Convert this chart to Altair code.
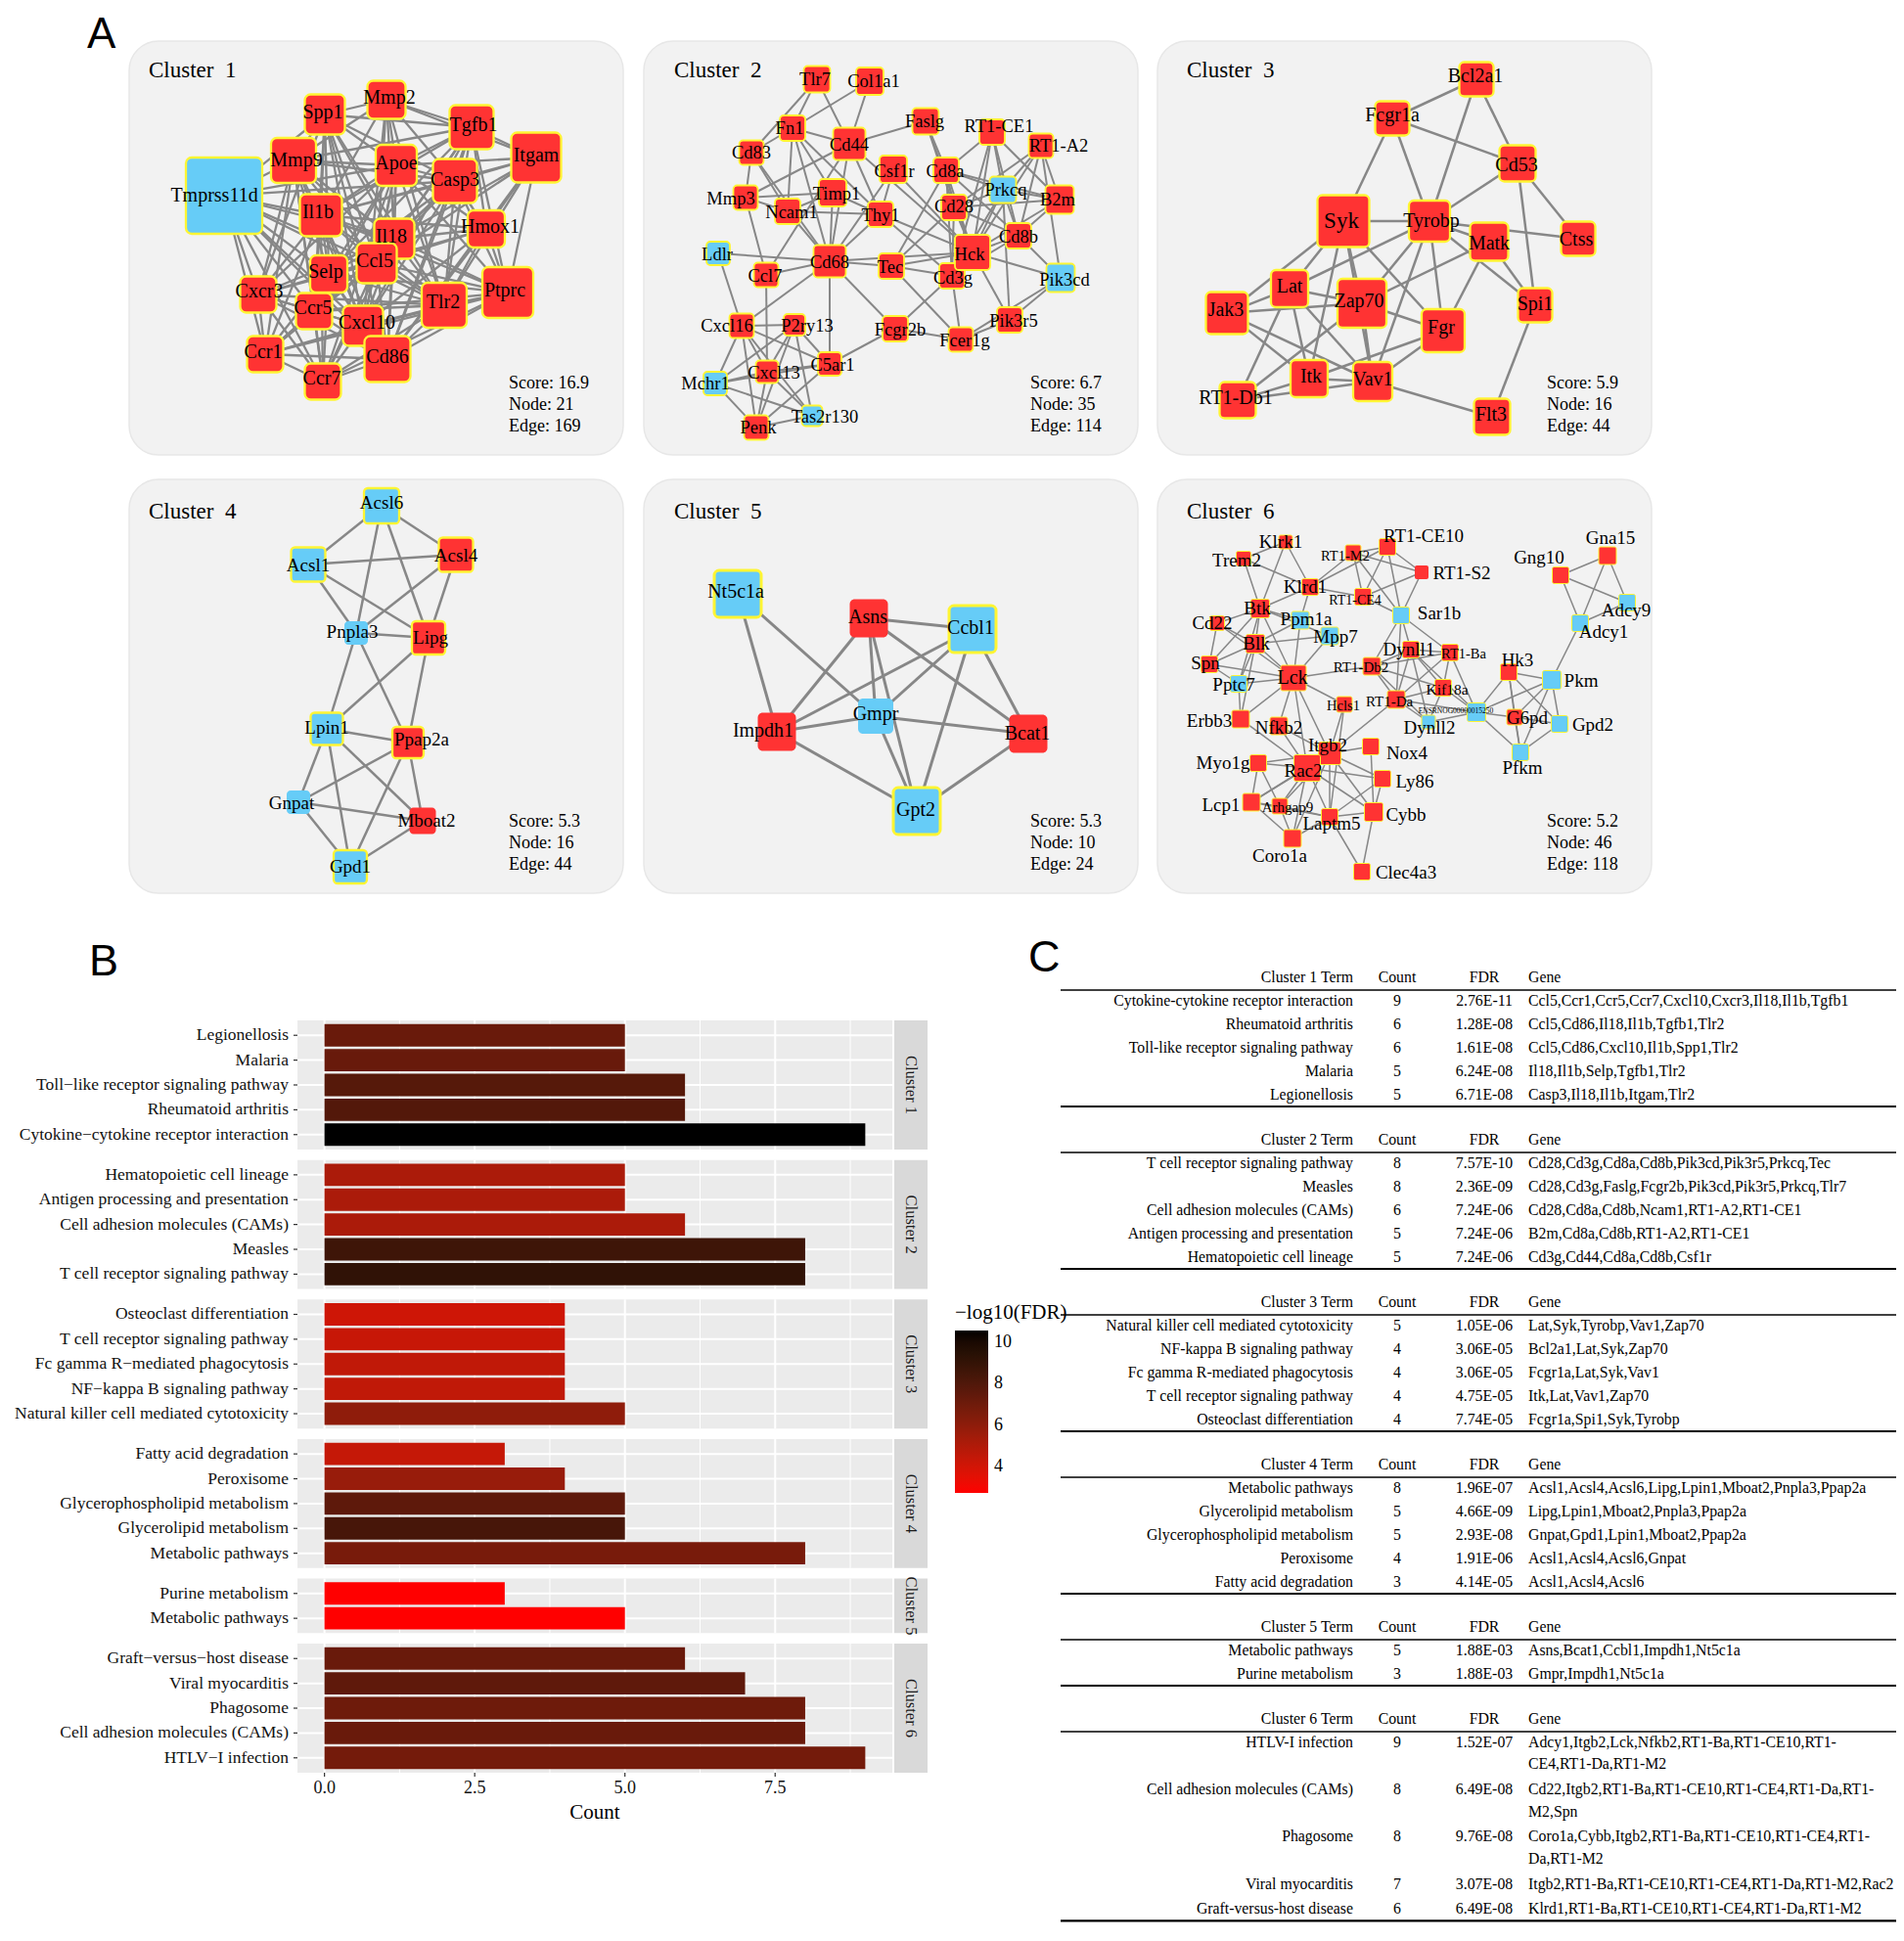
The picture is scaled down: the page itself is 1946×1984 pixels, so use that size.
import math
import itertools
import altair as alt
import pandas as pd

OFF = 8
W, H = 1930, 1968
SERIF = "Liberation Serif"
SANS = "Liberation Sans"
RED, BLUE, YEL = "#FF3333", "#66CCF7", "#FFF533"
EDGE = "#878787"

# ------------------------------------------------------------------ panel A data
SCORES = [16.9, 6.7, 5.9, 5.3, 5.3, 5.2]
NODE_N = [21, 35, 16, 16, 10, 46]
EDGE_N = [169, 114, 44, 44, 24, 118]

# name, x, y, box size, colour (r/b), yellow border, label dx, label dy, [font size]
C1_NODES = [
    ("Tmprss11d", 99, 160, 78, "b", 1, -10, 0), ("Mmp9", 170, 124, 46, "r", 1, 3, 0),
    ("Spp1", 202, 77, 41, "r", 1, -2, -2), ("Mmp2", 265, 62, 39, "r", 1, 3, -2),
    ("Tgfb1", 352, 90, 45, "r", 1, 2, -2), ("Itgam", 418, 121, 51, "r", 1, 0, -2),
    ("Apoe", 275, 129, 42, "r", 1, 0, -2), ("Casp3", 335, 145, 45, "r", 1, 0, -1),
    ("Il1b", 198, 180, 43, "r", 1, -3, -3), ("Il18", 273, 204, 41, "r", 1, -3, -2),
    ("Hmox1", 367, 194, 38, "r", 1, 4, -2), ("Ccl5", 255, 229, 41, "r", 1, -2, -2),
    ("Selp", 206, 240, 38, "r", 1, -3, -2), ("Cxcr3", 134, 261, 37, "r", 1, 1, -3),
    ("Ccr5", 191, 278, 37, "r", 1, -1, -3), ("Cxcl10", 241, 293, 41, "r", 1, 4, -3),
    ("Tlr2", 324, 272, 46, "r", 1, -1, -3), ("Ptprc", 389, 259, 52, "r", 1, -3, -2),
    ("Ccr1", 141, 322, 37, "r", 1, -2, -2), ("Cd86", 266, 327, 47, "r", 1, 0, -2),
    ("Ccr7", 200, 350, 37, "r", 1, -1, -3),
]
C1_NON_EDGES = (
    "Tmprss11d:Itgam Tmprss11d:Hmox1 Tmprss11d:Ptprc Tmprss11d:Tgfb1 Tmprss11d:Mmp2 "
    "Ccr1:Itgam Ccr1:Hmox1 Ccr1:Mmp2 Ccr1:Tgfb1 Ccr1:Spp1 Ccr1:Casp3 Ccr1:Apoe "
    "Ccr7:Itgam Ccr7:Hmox1 Ccr7:Mmp2 Ccr7:Tgfb1 Ccr7:Spp1 Ccr7:Casp3 "
    "Cxcr3:Itgam Cxcr3:Hmox1 Cxcr3:Mmp2 Cxcr3:Tgfb1 Cxcr3:Casp3 Cxcr3:Ptprc "
    "Ccr5:Itgam Ccr5:Mmp2 Ccr5:Hmox1 Ccr5:Tgfb1 Mmp2:Ptprc Mmp2:Cd86 Mmp2:Hmox1 Mmp2:Selp "
    "Spp1:Ptprc Spp1:Hmox1 Spp1:Itgam Itgam:Selp Itgam:Cxcl10 Itgam:Mmp9 "
    "Mmp9:Ptprc Mmp9:Hmox1 Mmp9:Cd86"
)

C2_NODES = [
    ("Tlr7", 179, 41, 27, "r", 1, -2, 0), ("Col1a1", 233, 43, 28, "r", 1, 4, 0),
    ("Fn1", 154, 91, 26, "r", 1, -3, 0), ("Cd83", 112, 116, 25, "r", 1, 0, 0),
    ("Cd44", 212, 107, 33, "r", 1, 0, 1), ("Faslg", 290, 84, 27, "r", 1, -1, 0),
    ("RT1-CE1", 358, 95, 26, "r", 1, 7, -6), ("RT1-A2", 408, 109, 25, "r", 1, 18, 0),
    ("Csf1r", 257, 133, 28, "r", 1, 1, 2), ("Cd8a", 311, 134, 26, "r", 1, -1, 1),
    ("Prkcq", 369, 154, 27, "b", 1, 3, 0), ("B2m", 427, 164, 29, "r", 1, -2, 0),
    ("Mmp3", 106, 162, 25, "r", 1, -15, 1), ("Timp1", 195, 157, 28, "r", 1, 4, 1),
    ("Ncam1", 149, 176, 26, "r", 1, 4, 1), ("Thy1", 244, 179, 26, "r", 1, 0, 1),
    ("Cd28", 319, 172, 26, "r", 1, 0, -1), ("Cd8b", 385, 201, 26, "r", 1, 0, 1),
    ("Ldlr", 78, 219, 24, "b", 1, -1, 1), ("Cd68", 192, 227, 33, "r", 1, 0, 1),
    ("Ccl7", 127, 241, 25, "r", 1, -1, 1), ("Tec", 255, 232, 26, "r", 1, -1, 1),
    ("Cd3g", 317, 242, 26, "r", 1, 1, 2), ("Hck", 338, 218, 36, "r", 1, -3, 2),
    ("Pik3cd", 428, 244, 29, "b", 1, 4, 2), ("Cxcl16", 102, 293, 25, "r", 1, -15, 0),
    ("P2ry13", 156, 292, 22, "r", 1, 13, 1), ("Fcgr2b", 259, 296, 26, "r", 1, 5, 1),
    ("Pik3r5", 376, 287, 26, "r", 1, 4, 1), ("Fcer1g", 326, 307, 25, "r", 1, 4, 1),
    ("C5ar1", 192, 332, 24, "r", 1, 3, 1), ("Cxcl13", 128, 340, 23, "r", 1, 7, 1),
    ("Mchr1", 75, 352, 24, "b", 1, -10, 0), ("Tas2r130", 174, 385, 21, "b", 1, 13, 1),
    ("Penk", 117, 397, 25, "r", 1, 2, 0),
]
C2_EDGES = (
    "Tlr7:Fn1 Tlr7:Cd44 Col1a1:Fn1 Col1a1:Cd44 Fn1:Cd83 Fn1:Cd44 Fn1:Ncam1 Fn1:Cd68 Fn1:Thy1 "
    "Fn1:Timp1 Cd83:Ncam1 Cd83:Cd68 Cd44:Faslg Cd44:Mmp3 Cd44:Cd68 Cd44:Thy1 Cd44:Hck Cd44:Ccl7 "
    "Faslg:Cd8a Faslg:Hck Faslg:Cd28 RT1-CE1:Cd8a RT1-CE1:Prkcq RT1-CE1:Hck RT1-CE1:Cd8b "
    "RT1-CE1:B2m RT1-CE1:Cd3g RT1-A2:Prkcq RT1-A2:Cd8b RT1-A2:B2m RT1-A2:Hck RT1-A2:Cd28 "
    "RT1-A2:Pik3cd Csf1r:Cd68 Csf1r:Hck Csf1r:Thy1 Cd8a:Cd28 Cd8a:Hck Cd8a:Cd3g Cd8a:Prkcq "
    "Cd8a:Cd8b Cd8a:B2m Cd8a:Tec Prkcq:Hck Prkcq:Cd28 Prkcq:Cd8b Prkcq:B2m Prkcq:Pik3r5 "
    "Prkcq:Cd3g B2m:Cd8b B2m:Cd28 B2m:Hck Mmp3:Timp1 Mmp3:Ncam1 Mmp3:Ccl7 Timp1:Thy1 Timp1:Cd68 "
    "Timp1:Ncam1 Ncam1:Thy1 Ncam1:Cd68 Thy1:Cd68 Thy1:Cd3g Thy1:Hck Cd28:Hck Cd28:Cd3g Cd28:Cd8b "
    "Cd28:Tec Cd8b:Hck Cd8b:Pik3cd Cd8b:Cd3g Hck:Tec Hck:Cd68 Hck:Pik3cd Hck:Pik3r5 Hck:Cd3g "
    "Ldlr:Cd68 Ldlr:Cxcl16 Cd68:Ccl7 Cd68:Tec Cd68:Fcgr2b Cd68:C5ar1 Cd68:Cxcl16 Tec:Cd3g "
    "Tec:Fcer1g Cd3g:Fcgr2b Cd3g:Fcer1g Pik3cd:Pik3r5 Pik3cd:Fcer1g Pik3r5:Fcer1g Fcgr2b:Fcer1g "
    "Fcgr2b:C5ar1 Ccl7:Cxcl13 Cxcl16:P2ry13 Cxcl16:Cxcl13 Cxcl16:C5ar1 Cxcl16:Mchr1 Cxcl16:Penk "
    "Cxcl16:Tas2r130 P2ry13:Cxcl13 P2ry13:C5ar1 P2ry13:Mchr1 P2ry13:Penk P2ry13:Tas2r130 "
    "C5ar1:Cxcl13 C5ar1:Penk C5ar1:Mchr1 Cxcl13:Mchr1 Cxcl13:Penk Cxcl13:Tas2r130 Mchr1:Penk "
    "Mchr1:Tas2r130 Penk:Tas2r130 Mmp3:Cd83 Tlr7:Cd83"
)

C3_NODES = [
    ("Bcl2a1", 328, 41, 35, "r", 1, -1, -3), ("Fcgr1a", 242, 81, 35, "r", 1, 0, -3),
    ("Cd53", 370, 127, 37, "r", 1, -1, 2), ("Syk", 192, 186, 53, "r", 1, -2, 0, 23),
    ("Tyrobp", 280, 186, 42, "r", 1, 2, 0), ("Matk", 341, 207, 39, "r", 1, 0, 2),
    ("Ctss", 432, 204, 35, "r", 1, -2, 1), ("Lat", 137, 255, 38, "r", 1, 0, -2),
    ("Jak3", 73, 280, 43, "r", 1, -1, -3), ("Zap70", 211, 270, 50, "r", 1, -3, -2),
    ("Spi1", 388, 272, 35, "r", 1, 0, -1), ("Fgr", 294, 298, 44, "r", 1, -2, -3),
    ("Itk", 157, 347, 38, "r", 1, 2, -2), ("Vav1", 222, 350, 40, "r", 1, 0, -2),
    ("RT1-Db1", 84, 369, 37, "r", 1, -2, -2), ("Flt3", 344, 386, 37, "r", 1, -1, -2),
]
C3_EDGES = (
    "Bcl2a1:Fcgr1a Bcl2a1:Cd53 Bcl2a1:Tyrobp Fcgr1a:Syk Fcgr1a:Tyrobp Fcgr1a:Cd53 Cd53:Tyrobp "
    "Cd53:Ctss Cd53:Spi1 Syk:Tyrobp Syk:Fgr Syk:Zap70 Syk:Lat Syk:Jak3 Syk:Itk Syk:Vav1 "
    "Tyrobp:Matk Tyrobp:Ctss Tyrobp:Fgr Tyrobp:Zap70 Tyrobp:Lat Tyrobp:Vav1 Tyrobp:Spi1 "
    "Matk:Zap70 Matk:Fgr Matk:Spi1 Lat:Jak3 Lat:Zap70 Lat:Itk Lat:Vav1 Lat:RT1-Db1 Jak3:Zap70 "
    "Jak3:Itk Jak3:Vav1 Zap70:Fgr Zap70:Vav1 Zap70:RT1-Db1 Fgr:Vav1 Fgr:Itk Itk:Vav1 "
    "Itk:RT1-Db1 Vav1:RT1-Db1 Vav1:Flt3 Spi1:Flt3"
)

C4_NODES = [
    ("Acsl6", 260, 29, 36, "b", 1, 0, -3), ("Acsl1", 185, 89, 35, "b", 1, 0, 1),
    ("Acsl4", 336, 79, 35, "r", 1, 0, 1), ("Pnpla3", 234, 159, 24, "b", 0, -4, -1),
    ("Lipg", 308, 164, 34, "r", 1, 2, 0), ("Lpin1", 204, 257, 33, "b", 1, 0, -1),
    ("Ppap2a", 287, 271, 32, "r", 1, 14, -3), ("Gnpat", 175, 332, 24, "b", 0, -7, 1),
    ("Mboat2", 302, 351, 27, "r", 0, 4, 0), ("Gpd1", 228, 398, 34, "b", 1, 0, 0),
]
C4_EDGES = (
    "Acsl6:Acsl1 Acsl6:Acsl4 Acsl6:Pnpla3 Acsl6:Lipg Acsl1:Acsl4 Acsl1:Pnpla3 Acsl1:Lipg "
    "Acsl4:Pnpla3 Acsl4:Lipg Pnpla3:Lipg Pnpla3:Lpin1 Pnpla3:Ppap2a Lipg:Lpin1 Lipg:Ppap2a "
    "Lpin1:Ppap2a Lpin1:Gnpat Lpin1:Gpd1 Lpin1:Mboat2 Ppap2a:Gnpat Ppap2a:Gpd1 Ppap2a:Mboat2 "
    "Gnpat:Mboat2 Gnpat:Gpd1 Gpd1:Mboat2"
)

C5_NODES = [
    ("Nt5c1a", 98, 119, 48, "b", 1, -2, -2), ("Asns", 232, 144, 39, "r", 0, -1, -1),
    ("Ccbl1", 338, 155, 48, "b", 1, -2, -1), ("Impdh1", 138, 260, 39, "r", 0, -14, -1),
    ("Gmpr", 239, 244, 36, "b", 0, 0, -2), ("Bcat1", 395, 262, 39, "r", 0, -1, 0),
    ("Gpt2", 281, 341, 48, "b", 1, -1, -1),
]
C5_EDGES = (
    "Nt5c1a:Impdh1 Nt5c1a:Gmpr Asns:Ccbl1 Asns:Impdh1 Asns:Gmpr Asns:Gpt2 Asns:Bcat1 "
    "Ccbl1:Impdh1 Ccbl1:Gmpr Ccbl1:Gpt2 Ccbl1:Bcat1 Impdh1:Gmpr Impdh1:Gpt2 Gmpr:Bcat1 "
    "Gmpr:Gpt2 Bcat1:Gpt2"
)

C6_NODES = [
    ("Klrk1", 133, 66, 14, "r", 1, -5, 0, 19), ("Trem2", 90, 83, 15, "r", 1, -7, 2, 19),
    ("RT1-M2", 202, 77, 16, "r", 1, -8, 4, 14.5), ("RT1-CE10", 237, 71, 17, "r", 1, 37, -11, 19),
    ("RT1-S2", 272, 97, 14, "r", 0, 41, 1, 19), ("Klrd1", 158, 112, 17, "r", 1, -5, 0, 19),
    ("RT1-CE4", 212, 122, 17, "r", 1, -8, 4, 14), ("Btk", 107, 134, 19, "r", 1, -3, 0, 19),
    ("Cd22", 63, 149, 15, "r", 1, -5, 0, 19), ("Ppm1a", 148, 146, 18, "b", 1, 6, -1, 19),
    ("Sar1b", 251, 141, 17, "b", 1, 39, -2, 19), ("Mpp7", 178, 162, 18, "b", 1, 6, 1, 19),
    ("Blk", 102, 170, 19, "r", 1, 1, 0, 19), ("Spn", 55, 191, 17, "r", 1, -4, -1, 19),
    ("Dynll1", 261, 176, 17, "r", 1, -2, 0, 19), ("RT1-Ba", 301, 179, 17, "r", 1, 14, 2, 14.5),
    ("RT1-Db2", 221, 193, 18, "r", 1, -11, 1, 15), ("Lck", 141, 205, 26, "r", 1, -1, 0, 20),
    ("Pptc7", 85, 211, 17, "b", 1, -5, 1, 19), ("Hk3", 361, 199, 17, "r", 1, 9, -12, 19),
    ("Pkm", 405, 207, 19, "b", 1, 30, 1, 19), ("Kif18a", 294, 215, 17, "r", 1, 4, 2, 15.5),
    ("RT1-Da", 246, 227, 18, "r", 1, -7, 2, 15), ("Hcls1", 193, 232, 16, "r", 1, -1, 2, 14.5),
    ("ENSRNOG00000015250", 328, 240, 19, "b", 1, -21, -1, 7.5),
    ("Erbb3", 87, 247, 18, "r", 1, -32, 2, 19), ("Nfkb2", 126, 254, 18, "r", 1, 0, 2, 19),
    ("G6pd", 367, 245, 16, "r", 1, 13, 1, 19), ("Dynll2", 279, 250, 14, "b", 1, 1, 6, 19),
    ("Gpd2", 413, 252, 17, "b", 1, 34, 1, 19), ("Itgb2", 178, 282, 23, "r", 1, -2, -8, 19),
    ("Nox4", 220, 275, 17, "r", 1, 37, 7, 19), ("Myo1g", 105, 292, 17, "r", 1, -36, 0, 19),
    ("Rac2", 155, 297, 27, "r", 1, -4, 3, 19), ("Ly86", 232, 308, 17, "r", 1, 33, 3, 19),
    ("Pfkm", 373, 281, 17, "b", 1, 2, 16, 19), ("Lcp1", 98, 332, 18, "r", 1, -31, 3, 19),
    ("Arhgap9", 127, 336, 16, "r", 1, 8, 1, 15), ("Laptm5", 178, 347, 17, "r", 1, 2, 7, 19),
    ("Cybb", 223, 342, 19, "r", 1, 33, 3, 19), ("Coro1a", 140, 369, 18, "r", 1, -13, 18, 19),
    ("Clec4a3", 211, 403, 17, "r", 1, 45, 1, 19), ("Gng10", 414, 100, 17, "r", 1, -22, -18, 19),
    ("Gna15", 462, 80, 18, "r", 1, 3, -18, 19), ("Adcy9", 482, 128, 17, "b", 1, -1, 8, 19),
    ("Adcy1", 434, 149, 17, "b", 1, 24, 9, 19),
]
C6_EDGES = (
    "Klrk1:Btk Klrk1:Klrd1 Trem2:Btk Trem2:Klrd1 Klrd1:Btk Klrd1:RT1-M2 Klrd1:RT1-CE10 "
    "Klrd1:RT1-CE4 Klrd1:Ppm1a RT1-M2:RT1-CE10 RT1-M2:RT1-S2 RT1-M2:RT1-CE4 RT1-M2:Sar1b "
    "RT1-CE10:RT1-S2 RT1-CE10:RT1-CE4 RT1-CE10:Sar1b RT1-S2:RT1-CE4 RT1-S2:Sar1b Sar1b:Dynll1 "
    "Sar1b:RT1-Ba Sar1b:RT1-Da Sar1b:RT1-Db2 Btk:Cd22 Btk:Blk Btk:Ppm1a Btk:Lck Btk:Spn "
    "Btk:Pptc7 Cd22:Spn Cd22:Blk Cd22:Lck Ppm1a:Lck Ppm1a:Blk Mpp7:Blk Mpp7:Lck Mpp7:Btk "
    "Blk:Spn Blk:Lck Blk:Pptc7 Blk:Erbb3 Spn:Lck Spn:Pptc7 Pptc7:Lck Pptc7:Erbb3 Lck:RT1-Db2 "
    "Lck:Erbb3 Lck:Nfkb2 Lck:Hcls1 Lck:Rac2 Lck:Itgb2 RT1-Db2:Dynll1 RT1-Db2:RT1-Ba "
    "RT1-Db2:RT1-Da RT1-Db2:Kif18a RT1-Db2:Dynll2 Dynll1:RT1-Ba Dynll1:RT1-Da Dynll1:Kif18a "
    "Dynll1:Dynll2 Dynll1:ENSRNOG00000015250 RT1-Ba:RT1-Da RT1-Ba:Kif18a "
    "RT1-Ba:ENSRNOG00000015250 RT1-Da:Kif18a RT1-Da:Dynll2 RT1-Da:ENSRNOG00000015250 "
    "RT1-Da:Itgb2 Kif18a:ENSRNOG00000015250 Kif18a:Dynll2 Dynll2:ENSRNOG00000015250 "
    "ENSRNOG00000015250:Hk3 ENSRNOG00000015250:Pkm ENSRNOG00000015250:G6pd "
    "ENSRNOG00000015250:Pfkm Hk3:Pkm Hk3:G6pd Hk3:Pfkm Hk3:Gpd2 Pkm:G6pd Pkm:Gpd2 Pkm:Pfkm "
    "Pkm:Adcy1 G6pd:Gpd2 G6pd:Pfkm Gpd2:Pfkm Adcy1:Adcy9 Adcy1:Gng10 Adcy1:Gna15 Gng10:Gna15 "
    "Gng10:Adcy9 Gna15:Adcy9 Hcls1:Itgb2 Hcls1:Laptm5 Erbb3:Rac2 Nfkb2:Rac2 Nfkb2:Itgb2 "
    "Itgb2:Rac2 Itgb2:Nox4 Itgb2:Ly86 Itgb2:Cybb Itgb2:Laptm5 Itgb2:Arhgap9 Itgb2:Coro1a "
    "Itgb2:Lcp1 Myo1g:Rac2 Myo1g:Itgb2 Myo1g:Lcp1 Myo1g:Arhgap9 Rac2:Lcp1 Rac2:Arhgap9 "
    "Rac2:Laptm5 Rac2:Cybb Rac2:Coro1a Rac2:Ly86 Lcp1:Arhgap9 Lcp1:Coro1a Lcp1:Laptm5 "
    "Arhgap9:Coro1a Arhgap9:Laptm5 Laptm5:Cybb Laptm5:Coro1a Laptm5:Clec4a3 Laptm5:Ly86 "
    "Cybb:Clec4a3 Cybb:Nox4 Ly86:Cybb Trem2:Klrk1 RT1-CE4:Sar1b"
)

# ------------------------------------------------------------------ panel B / C data
TERM_CLUSTER = [1] * 5 + [2] * 5 + [3] * 5 + [4] * 5 + [5] * 2 + [6] * 5
TERMS = [
    "Cytokine-cytokine receptor interaction", "Rheumatoid arthritis",
    "Toll-like receptor signaling pathway", "Malaria", "Legionellosis",
    "T cell receptor signaling pathway", "Measles", "Cell adhesion molecules (CAMs)",
    "Antigen processing and presentation", "Hematopoietic cell lineage",
    "Natural killer cell mediated cytotoxicity", "NF-kappa B signaling pathway",
    "Fc gamma R-mediated phagocytosis", "T cell receptor signaling pathway",
    "Osteoclast differentiation",
    "Metabolic pathways", "Glycerolipid metabolism", "Glycerophospholipid metabolism",
    "Peroxisome", "Fatty acid degradation",
    "Metabolic pathways", "Purine metabolism",
    "HTLV-I infection", "Cell adhesion molecules (CAMs)", "Phagosome", "Viral myocarditis",
    "Graft-versus-host disease",
]
COUNTS = [9, 6, 6, 5, 5, 8, 8, 6, 5, 5, 5, 4, 4, 4, 4, 8, 5, 5, 4, 3, 5, 3, 9, 8, 8, 7, 6]
FDRS = [
    "2.76E-11", "1.28E-08", "1.61E-08", "6.24E-08", "6.71E-08",
    "7.57E-10", "2.36E-09", "7.24E-06", "7.24E-06", "7.24E-06",
    "1.05E-06", "3.06E-05", "3.06E-05", "4.75E-05", "7.74E-05",
    "1.96E-07", "4.66E-09", "2.93E-08", "1.91E-06", "4.14E-05",
    "1.88E-03", "1.88E-03",
    "1.52E-07", "6.49E-08", "9.76E-08", "3.07E-08", "6.49E-08",
]
GENES = [
    "Ccl5,Ccr1,Ccr5,Ccr7,Cxcl10,Cxcr3,Il18,Il1b,Tgfb1", "Ccl5,Cd86,Il18,Il1b,Tgfb1,Tlr2",
    "Ccl5,Cd86,Cxcl10,Il1b,Spp1,Tlr2", "Il18,Il1b,Selp,Tgfb1,Tlr2", "Casp3,Il18,Il1b,Itgam,Tlr2",
    "Cd28,Cd3g,Cd8a,Cd8b,Pik3cd,Pik3r5,Prkcq,Tec", "Cd28,Cd3g,Faslg,Fcgr2b,Pik3cd,Pik3r5,Prkcq,Tlr7",
    "Cd28,Cd8a,Cd8b,Ncam1,RT1-A2,RT1-CE1", "B2m,Cd8a,Cd8b,RT1-A2,RT1-CE1",
    "Cd3g,Cd44,Cd8a,Cd8b,Csf1r",
    "Lat,Syk,Tyrobp,Vav1,Zap70", "Bcl2a1,Lat,Syk,Zap70", "Fcgr1a,Lat,Syk,Vav1",
    "Itk,Lat,Vav1,Zap70", "Fcgr1a,Spi1,Syk,Tyrobp",
    "Acsl1,Acsl4,Acsl6,Lipg,Lpin1,Mboat2,Pnpla3,Ppap2a", "Lipg,Lpin1,Mboat2,Pnpla3,Ppap2a",
    "Gnpat,Gpd1,Lpin1,Mboat2,Ppap2a", "Acsl1,Acsl4,Acsl6,Gnpat", "Acsl1,Acsl4,Acsl6",
    "Asns,Bcat1,Ccbl1,Impdh1,Nt5c1a", "Gmpr,Impdh1,Nt5c1a",
    "Adcy1,Itgb2,Lck,Nfkb2,RT1-Ba,RT1-CE10,RT1-\nCE4,RT1-Da,RT1-M2",
    "Cd22,Itgb2,RT1-Ba,RT1-CE10,RT1-CE4,RT1-Da,RT1-\nM2,Spn",
    "Coro1a,Cybb,Itgb2,RT1-Ba,RT1-CE10,RT1-CE4,RT1-\nDa,RT1-M2",
    "Itgb2,RT1-Ba,RT1-CE10,RT1-CE4,RT1-Da,RT1-M2,Rac2",
    "Klrd1,RT1-Ba,RT1-CE10,RT1-CE4,RT1-Da,RT1-M2",
]
X_BREAKS = [0, 2.5, 5, 7.5]
X_MINOR = [1.25, 3.75, 6.25, 8.75]
LEGEND_VALUES = [4, 6, 8, 10]

# ------------------------------------------------------------------ layout
PANEL_X = [132, 658, 1183]
PANEL_Y = [42, 490]
PANEL_W, PANEL_H = 505, 423
LOC0 = 2
STYLE = [
    dict(fs=20, ew=2.3, bw=2.3, r=6),
    dict(fs=18.5, ew=2.0, bw=1.8, r=4),
    dict(fs=20, ew=2.5, bw=2.3, r=5),
    dict(fs=19, ew=2.5, bw=2.3, r=4),
    dict(fs=20, ew=3.0, bw=3.0, r=5),
    dict(fs=19, ew=1.5, bw=1.0, r=2),
]
TITLE_POS = [(22, 32), (33, 32), (32, 32), (22, 35), (33, 35), (32, 35)]
STAT_X = [390, 397, 400, 390, 397, 400]
STAT_Y = [352, 374, 396]


def parse_pairs(s):
    return [tuple(p.split(":")) for p in s.split()]


def c1_pairs():
    names = [n[0] for n in C1_NODES]
    miss = {frozenset(p) for p in parse_pairs(C1_NON_EDGES)}
    return [(a, b) for a, b in itertools.combinations(names, 2) if frozenset((a, b)) not in miss]


def cluster_chart(i, nodes, pairs):
    st = STYLE[i]
    ox = PANEL_X[i % 3] - OFF
    oy = PANEL_Y[i // 3] - OFF
    XS = alt.Scale(domain=[LOC0, LOC0 + PANEL_W], range=[ox, ox + PANEL_W], nice=False, zero=False)
    YS = alt.Scale(domain=[LOC0, LOC0 + PANEL_H], range=[oy, oy + PANEL_H], nice=False, zero=False)

    def X(f):
        return alt.X(f"{f}:Q", scale=XS, axis=None)

    def Y(f):
        return alt.Y(f"{f}:Q", scale=YS, axis=None)

    rows = []
    for n in nodes:
        name, x, y, s, c, b, dx, dy = n[:8]
        fs = n[8] if len(n) > 8 else st["fs"]
        fill = RED if c == "r" else BLUE
        rows.append(dict(name=name, x=x, y=y, x0=x - s / 2, x1=x + s / 2, y0=y - s / 2, y1=y + s / 2,
                         fill=fill, stroke=YEL if b else fill, sw=st["bw"] if b else 0.0,
                         lx=x + dx, ly=y + dy, fs=fs))
    nd = pd.DataFrame(rows)
    pos = {r["name"]: (r["x"], r["y"]) for r in rows}
    er = [dict(x=pos[a][0], y=pos[a][1], x2=pos[b][0], y2=pos[b][1])
          for a, b in pairs if a in pos and b in pos]
    ed = pd.DataFrame(er)

    bg = alt.Chart(pd.DataFrame({"x0": [LOC0], "x1": [LOC0 + PANEL_W], "y0": [LOC0], "y1": [LOC0 + PANEL_H]})
                   ).mark_rect(cornerRadius=30, fill="#F2F2F2", stroke="#E7E7E7", strokeWidth=1.5
                               ).encode(x=X("x0"), x2="x1:Q", y=Y("y0"), y2="y1:Q")
    edges = alt.Chart(ed).mark_rule(color=EDGE, strokeWidth=st["ew"]).encode(
        x=X("x"), y=Y("y"), x2="x2:Q", y2="y2:Q")
    boxes = alt.Chart(nd).mark_rect(cornerRadius=st["r"]).encode(
        x=X("x0"), x2="x1:Q", y=Y("y0"), y2="y1:Q",
        color=alt.Color("fill:N", scale=None),
        stroke=alt.Stroke("stroke:N", scale=None),
        strokeWidth=alt.StrokeWidth("sw:Q", scale=None))
    labels = alt.Chart(nd).mark_text(font=SERIF, align="center", baseline="middle", color="black").encode(
        x=X("lx"), y=Y("ly"), text="name:N", size=alt.Size("fs:Q", scale=None))
    tx, ty = TITLE_POS[i]
    title = alt.Chart(pd.DataFrame({"x": [tx], "y": [ty], "t": [f"Cluster\u00a0 {i + 1}"]})).mark_text(
        font=SERIF, fontSize=23, align="left", baseline="middle", color="black").encode(
        x=X("x"), y=Y("y"), text="t:N")
    stats = alt.Chart(pd.DataFrame({
        "x": [STAT_X[i]] * 3, "y": STAT_Y,
        "t": [f"Score: {SCORES[i]}", f"Node: {NODE_N[i]}", f"Edge: {EDGE_N[i]}"]})).mark_text(
        font=SERIF, fontSize=18, align="left", baseline="middle", color="black").encode(
        x=X("x"), y=Y("y"), text="t:N")
    return alt.layer(bg, edges, boxes, labels, title, stats)


cluster_layers = [
    cluster_chart(0, C1_NODES, c1_pairs()),
    cluster_chart(1, C2_NODES, parse_pairs(C2_EDGES)),
    cluster_chart(2, C3_NODES, parse_pairs(C3_EDGES)),
    cluster_chart(3, C4_NODES, parse_pairs(C4_EDGES)),
    cluster_chart(4, C5_NODES, parse_pairs(C5_EDGES)),
    cluster_chart(5, C6_NODES, parse_pairs(C6_EDGES)),
]

# ------------------------------------------------------------------ panel B (bar chart)
XMIN, XMAX = -0.45, 9.45
PXU = (912 - 304) / (XMAX - XMIN)       # pixels per count unit
GAP_U = 0.42
bars, panels, grid = [], [], []
u = 0.0
for k in range(1, 7):
    idx = [j for j in range(len(TERMS)) if TERM_CLUSTER[j] == k][::-1]
    top = u
    for r, j in enumerate(idx):
        c = u + 0.6 + r
        bars.append(dict(label=TERMS[j].replace("-", "\u2212"), count=COUNTS[j], zero=0.0,
                         nl=-math.log10(float(FDRS[j])), yc=c, y0=c - 0.45, y1=c + 0.45,
                         x0=XMIN, x1=XMAX))
    bottom = u + len(idx) + 0.2
    panels.append(dict(top=top, bottom=bottom, mid=(top + bottom) / 2, lab=f"Cluster {k}",
                       x0=XMIN, x1=XMAX, sx0=XMAX + 2 / PXU, sx1=XMAX + 36 / PXU,
                       sx=XMAX + 19 / PXU))
    for v in X_BREAKS:
        grid.append(dict(x=v, top=top, bottom=bottom, major=1))
    for v in X_MINOR:
        grid.append(dict(x=v, top=top, bottom=bottom, major=0))
    u = bottom + GAP_U
U_TOT = u - GAP_U
bars_df = pd.DataFrame(bars)
panels_df = pd.DataFrame(panels)
grid_df = pd.DataFrame(grid)
ticks_df = pd.DataFrame({"v": X_BREAKS, "lab": [f"{v:.1f}" for v in X_BREAKS], "yb": [U_TOT] * 4})

XB = alt.Scale(domain=[XMIN, XMAX], range=[304 - OFF, 912 - OFF], nice=False, zero=False)
YB = alt.Scale(domain=[0, U_TOT], range=[1043 - OFF, 1812 - OFF], nice=False, zero=False)


def XBf(f):
    return alt.X(f"{f}:Q", scale=XB, axis=None)


def YBf(f):
    return alt.Y(f"{f}:Q", scale=YB, axis=None)


nl_min, nl_max = bars_df["nl"].min(), bars_df["nl"].max()
b_bg = alt.Chart(panels_df).mark_rect(fill="#EBEBEB").encode(
    x=XBf("x0"), x2="x1:Q", y=YBf("top"), y2="bottom:Q")
b_minor = alt.Chart(grid_df[grid_df.major == 0]).mark_rule(color="white", strokeWidth=1.0).encode(
    x=XBf("x"), y=YBf("top"), y2="bottom:Q")
b_major = alt.Chart(grid_df[grid_df.major == 1]).mark_rule(color="white", strokeWidth=2.0).encode(
    x=XBf("x"), y=YBf("top"), y2="bottom:Q")
b_hgrid = alt.Chart(bars_df).mark_rule(color="white", strokeWidth=2.0).encode(
    x=XBf("x0"), x2="x1:Q", y=YBf("yc"))
b_bars = alt.Chart(bars_df).mark_rect().encode(
    x=XBf("zero"), x2="count:Q", y=YBf("y0"), y2="y1:Q",
    color=alt.Color("nl:Q", scale=alt.Scale(domain=[nl_min, nl_max], range=["#FF0000", "#000000"],
                                            interpolate="lab"),
                    legend=alt.Legend(title="\u2212log10(FDR)", orient="none", legendX=968, legendY=1323,
                                      direction="vertical", gradientLength=166, gradientThickness=34,
                                      values=LEGEND_VALUES, titleFont=SERIF, titleFontSize=21,
                                      titleFontWeight="normal", titleColor="black", labelFont=SERIF,
                                      labelFontSize=18, labelColor="black", titlePadding=8,
                                      labelOffset=6, gradientStrokeWidth=0)))
b_strip = alt.Chart(panels_df).mark_rect(fill="#D9D9D9").encode(
    x=XBf("sx0"), x2="sx1:Q", y=YBf("top"), y2="bottom:Q")
b_strip_t = alt.Chart(panels_df).mark_text(font=SERIF, fontSize=16.5, angle=90, color="#1A1A1A",
                                           align="center", baseline="middle").encode(
    x=XBf("sx"), y=YBf("mid"), text="lab:N")
b_ylab = alt.Chart(bars_df).mark_text(font=SERIF, fontSize=17.5, align="right", baseline="middle",
                                      dx=-9, color="#111111").encode(
    x=XBf("x0"), y=YBf("yc"), text="label:N")
b_ytick = alt.Chart(bars_df).mark_rule(color="#333333", strokeWidth=1.2, x2Offset=-4).encode(
    x=XBf("x0"), x2="x0:Q", y=YBf("yc"))
b_xtick = alt.Chart(ticks_df).mark_rule(color="#333333", strokeWidth=1.2, y2Offset=4).encode(
    x=XBf("v"), y=YBf("yb"), y2="yb:Q")
b_xlab = alt.Chart(ticks_df).mark_text(font=SERIF, fontSize=18, align="center", baseline="middle",
                                       dy=16, color="#111111").encode(
    x=XBf("v"), y=YBf("yb"), text="lab:N")
b_xtitle = alt.Chart(pd.DataFrame({"x": [(XMIN + XMAX) / 2], "yb": [U_TOT], "t": ["Count"]})).mark_text(
    font=SERIF, fontSize=21, align="center", baseline="middle", dy=41, color="black").encode(
    x=XBf("x"), y=YBf("yb"), text="t:N")
b_layer = alt.layer(b_bg, b_minor, b_major, b_hgrid, b_bars, b_strip, b_strip_t, b_ylab, b_ytick,
                    b_xtick, b_xlab, b_xtitle)

# ------------------------------------------------------------------ panel C (table)
LH = 22.4
BLOCK_GAP = 46.0
txt_rows, gene_rows, rules = [], [], []
y = 999.0
for k in range(1, 7):
    idx = [j for j in range(len(TERMS)) if TERM_CLUSTER[j] == k]
    pad = 3.4 if any("\n" in GENES[j] for j in idx) else 1.6
    txt_rows.append(dict(y=y - OFF, term=f"Cluster {k} Term", count="Count", fdr="FDR"))
    gene_rows.append(dict(y=y - OFF, t="Gene"))
    rules.append(dict(y=y + 13 - OFF, w=1.3))
    ry = y + 24
    last = ry
    for j in idx:
        lines = GENES[j].split("\n")
        txt_rows.append(dict(y=ry - OFF, term=TERMS[j], count=str(COUNTS[j]), fdr=FDRS[j]))
        for m, ln in enumerate(lines):
            gene_rows.append(dict(y=ry + m * LH - OFF, t=ln))
        last = ry + (len(lines) - 1) * LH
        ry += len(lines) * LH + pad
    rules.append(dict(y=last + 12 - OFF, w=2.2))
    y = last + BLOCK_GAP
txt_df = pd.DataFrame(txt_rows)
gene_df = pd.DataFrame(gene_rows)
rules_df = pd.DataFrame(rules)
YC = alt.Scale(domain=[0, H], range=[0, H], nice=False, zero=False)


def YCf(f):
    return alt.Y(f"{f}:Q", scale=YC, axis=None)


TXT = dict(font=SERIF, fontSize=15.8, baseline="middle", color="black")
c_term = alt.Chart(txt_df).mark_text(align="right", **TXT).encode(
    x=alt.value(1383 - OFF), y=YCf("y"), text="term:N")
c_count = alt.Chart(txt_df).mark_text(align="center", **TXT).encode(
    x=alt.value(1428 - OFF), y=YCf("y"), text="count:N")
c_fdr = alt.Chart(txt_df).mark_text(align="center", **TXT).encode(
    x=alt.value(1517 - OFF), y=YCf("y"), text="fdr:N")
c_gene = alt.Chart(gene_df).mark_text(align="left", **TXT).encode(
    x=alt.value(1562 - OFF), y=YCf("y"), text="t:N")
c_rules = alt.Chart(rules_df).mark_rule(color="black").encode(
    x=alt.value(1084 - OFF), x2=alt.value(W), y=YCf("y"),
    strokeWidth=alt.StrokeWidth("w:Q", scale=None))
c_layer = alt.layer(c_rules, c_term, c_count, c_fdr, c_gene)

# ------------------------------------------------------------------ panel letters
letters = [alt.Chart(pd.DataFrame({"t": ["A"]})).mark_text(
    font=SANS, fontSize=44, align="left", baseline="top", color="black").encode(
    x=alt.value(89 - OFF), y=alt.value(6), text="t:N")]
for t, lx, ly in [("B", 91, 997), ("C", 1051, 993)]:
    letters.append(alt.Chart(pd.DataFrame({"t": [t]})).mark_text(
        font=SANS, fontSize=45, align="left", baseline="alphabetic", color="black").encode(
        x=alt.value(lx - OFF), y=alt.value(ly - OFF), text="t:N"))

chart = alt.layer(*cluster_layers, b_layer, c_layer, *letters).resolve_scale(
    x="independent", y="independent", color="independent", stroke="independent",
    strokeWidth="independent", size="independent"
).properties(
    width=W, height=H, autosize=alt.AutoSizeParams(type="none"), padding=0, background="white"
).configure_view(strokeWidth=0)

chart.save("out.html", embed_options={"renderer": "svg", "actions": False})
